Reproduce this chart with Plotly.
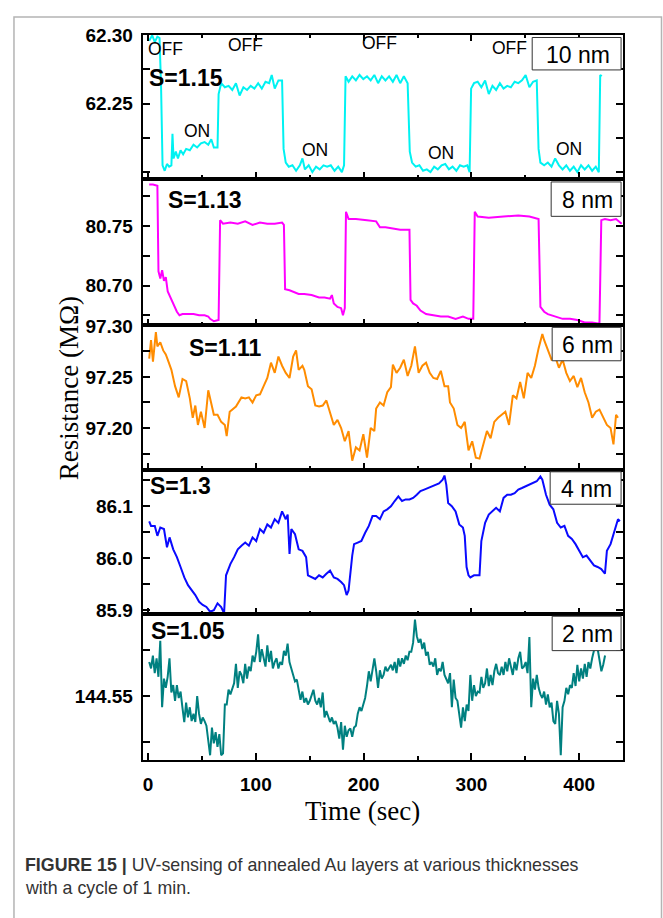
import numpy as np
import plotly.graph_objects as go
from plotly.subplots import make_subplots

# ---------------- data ----------------
# 10 nm (cyan)
t10 = [1.0, 3.8, 6.2, 8.6, 10.6, 12.0, 13.4, 15.4, 17.5, 19.5, 21.6, 22.6, 23.6, 25.7, 27.7, 30.1, 32.5, 35.3,
       38.7, 42.1, 45.5, 49.0, 52.4, 55.8, 58.6, 61.0, 64.4, 65.4, 67.8, 71.2, 74.7, 78.1, 81.5, 84.9, 88.4, 91.8,
       95.2, 98.6, 102.1, 105.5, 108.9, 112.3, 114.7, 117.5, 120.9, 124.3, 125.7, 127.7, 130.5, 133.9, 137.3, 140.8,
       143.2, 145.5, 149.0, 152.4, 155.8, 159.2, 162.7, 166.1, 169.5, 173.0, 176.4, 179.8, 181.8, 183.2, 186.0, 189.4,
       192.8, 196.2, 199.7, 203.1, 206.5, 209.9, 213.4, 216.8, 220.2, 223.6, 227.1, 230.5, 233.9, 237.3, 240.8, 242.8,
       244.9, 248.3, 251.7, 255.1, 258.6, 262.0, 265.4, 268.8, 272.3, 275.7, 279.1, 282.5, 286.0, 289.4, 292.8, 296.2,
       298.3, 299.7, 302.4, 305.8, 309.2, 312.7, 316.1, 319.5, 322.9, 326.4, 329.8, 333.2, 336.6, 340.1, 343.5, 346.9,
       350.3, 353.8, 357.2, 360.6, 362.3, 364.0, 367.5, 370.9, 374.3, 377.7, 381.2, 384.6, 388.0, 391.4, 394.9, 398.3,
       401.7, 405.1, 408.6, 412.0, 415.4, 418.2, 419.5, 420.9]
r10 = [62.296, 62.300, 62.295, 62.299, 62.298, 62.263, 62.205, 62.201, 62.206, 62.204, 62.205, 62.228, 62.210, 62.215,
       62.210, 62.216, 62.213, 62.217, 62.216, 62.220, 62.218, 62.221, 62.222, 62.220, 62.224, 62.218, 62.218, 62.257,
       62.265, 62.262, 62.263, 62.260, 62.265, 62.256, 62.262, 62.260, 62.263, 62.261, 62.265, 62.261, 62.266, 62.265,
       62.271, 62.261, 62.267, 62.267, 62.217, 62.207, 62.204, 62.205, 62.201, 62.205, 62.210, 62.202, 62.205, 62.200,
       62.204, 62.202, 62.205, 62.204, 62.205, 62.201, 62.204, 62.200, 62.205, 62.270, 62.266, 62.270, 62.267, 62.271,
       62.268, 62.270, 62.267, 62.271, 62.265, 62.270, 62.267, 62.270, 62.266, 62.271, 62.265, 62.270, 62.265, 62.215,
       62.207, 62.204, 62.205, 62.201, 62.202, 62.200, 62.204, 62.202, 62.205, 62.206, 62.202, 62.204, 62.201, 62.205,
       62.204, 62.205, 62.200, 62.261, 62.265, 62.266, 62.262, 62.267, 62.257, 62.263, 62.260, 62.265, 62.261, 62.263,
       62.262, 62.266, 62.265, 62.267, 62.271, 62.262, 62.266, 62.267, 62.217, 62.207, 62.205, 62.207, 62.204, 62.210,
       62.205, 62.202, 62.205, 62.201, 62.204, 62.200, 62.205, 62.202, 62.205, 62.201, 62.204, 62.200, 62.271, 62.270]

# 8 nm (magenta)
t8 = [1.0, 4.5, 8.6, 9.6, 11.3, 13.0, 14.7, 16.4, 18.2, 21.6, 24.3, 26.7, 29.1, 31.9, 37.0, 42.1, 47.3, 52.4, 55.8,
      57.5, 61.0, 65.4, 66.8, 69.5, 76.4, 83.2, 90.1, 96.9, 103.8, 110.6, 117.5, 124.3, 126.0, 127.1, 131.2, 134.6,
      139.7, 144.9, 151.7, 158.6, 163.7, 168.8, 170.5, 172.3, 175.7, 179.1, 180.8, 182.5, 183.6, 186.0, 192.8, 203.1,
      211.6, 215.1, 220.2, 227.1, 233.9, 242.5, 243.5, 245.9, 249.3, 252.7, 257.9, 264.7, 271.6, 278.4, 285.3, 292.1,
      297.3, 301.7, 303.1, 305.8, 316.1, 329.8, 343.5, 353.8, 362.3, 364.0, 367.5, 370.9, 377.7, 384.6, 391.4, 398.3,
      405.1, 412.0, 418.8, 420.5, 423.9, 429.1, 434.2, 439.4]
r8 = [80.785, 80.785, 80.784, 80.712, 80.706, 80.713, 80.704, 80.707, 80.695, 80.688, 80.682, 80.678, 80.675, 80.676,
      80.676, 80.676, 80.675, 80.675, 80.674, 80.672, 80.670, 80.671, 80.755, 80.752, 80.753, 80.752, 80.754, 80.751,
      80.753, 80.752, 80.752, 80.753, 80.751, 80.697, 80.696, 80.695, 80.693, 80.693, 80.692, 80.690, 80.690, 80.689,
      80.692, 80.685, 80.682, 80.681, 80.675, 80.681, 80.762, 80.756, 80.756, 80.755, 80.754, 80.749, 80.749, 80.748,
      80.747, 80.747, 80.688, 80.685, 80.683, 80.679, 80.676, 80.675, 80.674, 80.674, 80.672, 80.674, 80.672, 80.672,
      80.762, 80.758, 80.757, 80.758, 80.759, 80.758, 80.756, 80.682, 80.678, 80.676, 80.674, 80.672, 80.672, 80.671,
      80.669, 80.669, 80.668, 80.755, 80.756, 80.755, 80.756, 80.752]

# 6 nm (orange)
t6 = [1.0, 2.7, 4.5, 7.2, 8.6, 11.3, 14.0, 16.4, 18.2, 21.6, 25.0, 28.4, 31.9, 35.3, 38.7, 41.4, 43.8, 46.2, 49.0,
      52.4, 55.8, 57.5, 61.0, 64.4, 67.8, 71.2, 72.9, 75.7, 78.1, 81.5, 86.6, 90.1, 93.5, 96.9, 100.3, 103.8, 107.2,
      110.6, 114.0, 117.5, 120.9, 124.3, 127.7, 131.2, 134.6, 137.3, 139.7, 143.2, 144.9, 148.3, 151.7, 155.1, 158.6,
      162.0, 165.4, 168.8, 172.3, 175.7, 179.1, 182.5, 186.0, 189.4, 192.8, 196.2, 199.7, 203.1, 206.5, 209.9, 211.6,
      215.1, 218.5, 221.9, 225.3, 227.1, 230.5, 233.9, 237.3, 240.8, 244.2, 247.6, 251.0, 254.5, 257.9, 261.3, 264.7,
      268.2, 271.6, 275.0, 278.4, 280.1, 283.6, 287.0, 290.4, 293.8, 297.3, 300.7, 304.1, 307.5, 311.0, 314.4, 317.8,
      321.2, 324.7, 328.1, 331.5, 334.9, 338.4, 341.8, 345.2, 348.6, 352.1, 355.5, 358.9, 362.3, 365.8, 367.5, 370.9,
      374.3, 377.7, 381.2, 384.6, 388.0, 391.4, 394.9, 398.3, 401.7, 405.1, 408.6, 412.0, 415.4, 418.8, 422.3, 425.7,
      429.1, 431.8, 434.2, 436.0]
r6 = [97.268, 97.286, 97.265, 97.294, 97.280, 97.284, 97.276, 97.272, 97.267, 97.257, 97.241, 97.230, 97.248, 97.246,
      97.229, 97.210, 97.222, 97.203, 97.216, 97.200, 97.237, 97.229, 97.213, 97.213, 97.206, 97.203, 97.192, 97.216,
      97.218, 97.221, 97.230, 97.229, 97.230, 97.225, 97.232, 97.233, 97.241, 97.249, 97.264, 97.254, 97.270, 97.261,
      97.254, 97.249, 97.270, 97.276, 97.257, 97.261, 97.257, 97.241, 97.238, 97.222, 97.221, 97.222, 97.227, 97.216,
      97.203, 97.208, 97.200, 97.187, 97.197, 97.168, 97.181, 97.178, 97.194, 97.171, 97.200, 97.197, 97.219, 97.225,
      97.222, 97.235, 97.240, 97.262, 97.254, 97.259, 97.267, 97.251, 97.261, 97.280, 97.254, 97.261, 97.264, 97.254,
      97.249, 97.248, 97.256, 97.241, 97.241, 97.225, 97.219, 97.203, 97.200, 97.206, 97.178, 97.187, 97.171, 97.170,
      97.184, 97.197, 97.190, 97.206, 97.210, 97.213, 97.216, 97.203, 97.232, 97.229, 97.245, 97.229, 97.254, 97.249,
      97.261, 97.278, 97.292, 97.286, 97.276, 97.267, 97.270, 97.259, 97.267, 97.254, 97.246, 97.251, 97.240, 97.249,
      97.235, 97.225, 97.210, 97.216, 97.218, 97.210, 97.203, 97.200, 97.184, 97.213, 97.210]

# 4 nm (blue)
t4 = [1.0, 2.7, 6.2, 8.6, 11.3, 14.7, 17.5, 19.9, 23.3, 26.7, 30.1, 33.6, 37.0, 40.4, 43.8, 47.3, 50.7, 54.1, 57.5,
      61.0, 64.4, 67.8, 70.5, 72.3, 76.4, 79.8, 83.2, 86.6, 90.1, 93.5, 96.9, 100.3, 103.8, 107.2, 110.6, 114.0, 117.5,
      120.9, 124.3, 127.7, 129.5, 131.2, 132.9, 136.3, 139.7, 143.2, 146.6, 148.3, 151.7, 155.1, 158.6, 162.0, 165.4,
      168.8, 172.3, 175.7, 179.1, 181.8, 184.2, 186.0, 189.4, 191.1, 194.5, 197.9, 201.4, 204.8, 208.2, 211.6, 215.1,
      218.5, 221.9, 225.3, 228.8, 232.2, 235.6, 239.0, 242.5, 245.9, 249.3, 252.7, 256.2, 259.6, 263.0, 266.4, 269.9,
      273.3, 275.0, 276.7, 278.4, 281.8, 285.3, 288.7, 292.1, 293.8, 295.5, 297.3, 299.0, 302.4, 305.8, 307.5, 309.2,
      312.7, 316.1, 319.5, 322.9, 326.4, 329.8, 333.2, 336.6, 340.1, 343.5, 346.9, 350.3, 353.8, 357.2, 360.6, 364.0,
      365.8, 369.2, 372.6, 376.0, 379.5, 382.9, 386.3, 389.7, 393.2, 396.6, 400.0, 403.4, 406.8, 410.3, 413.7, 417.1,
      420.5, 423.9, 425.7, 429.1, 432.5, 436.0, 437.7]
r4 = [86.071, 86.062, 86.062, 86.043, 86.059, 86.056, 86.021, 86.040, 86.017, 86.002, 85.983, 85.963, 85.948, 85.938,
      85.929, 85.916, 85.910, 85.906, 85.897, 85.900, 85.913, 85.906, 85.894, 85.967, 85.989, 86.002, 86.017, 86.024,
      86.030, 86.024, 86.040, 86.033, 86.056, 86.049, 86.065, 86.059, 86.075, 86.068, 86.090, 86.075, 86.084, 86.008,
      86.056, 86.046, 86.017, 86.014, 86.002, 85.967, 85.963, 85.960, 85.967, 85.963, 85.970, 85.976, 85.963, 85.960,
      85.954, 85.948, 85.929, 85.938, 86.005, 86.027, 86.030, 86.033, 86.049, 86.062, 86.081, 86.081, 86.075, 86.090,
      86.094, 86.100, 86.110, 86.119, 86.110, 86.113, 86.113, 86.116, 86.122, 86.129, 86.132, 86.135, 86.138, 86.141,
      86.144, 86.151, 86.159, 86.141, 86.106, 86.100, 86.090, 86.065, 86.059, 86.043, 85.983, 85.967, 85.963, 85.967,
      85.967, 85.967, 86.033, 86.068, 86.084, 86.090, 86.097, 86.090, 86.116, 86.122, 86.122, 86.125, 86.132, 86.135,
      86.138, 86.141, 86.144, 86.148, 86.157, 86.151, 86.122, 86.103, 86.094, 86.068, 86.059, 86.062, 86.043, 86.037,
      86.027, 86.014, 86.002, 86.005, 85.995, 85.986, 85.983, 85.979, 85.970, 86.014, 86.027, 86.052, 86.075, 86.071]

# 2 nm (teal), sampled evenly in time from 1 s to 424 s
t2_start, t2_end = 1.0, 424.0
r2 = [144.587, 144.580, 144.594, 144.575, 144.591, 144.571, 144.610, 144.538, 144.569, 144.559, 144.571, 144.591,
      144.554, 144.562, 144.545, 144.562, 144.548, 144.555, 144.538, 144.522, 144.543, 144.527, 144.538, 144.523,
      144.531, 144.522, 144.550, 144.531, 144.520, 144.527, 144.523, 144.518, 144.502, 144.486, 144.516, 144.499,
      144.511, 144.495, 144.509, 144.486, 144.488, 144.541, 144.541, 144.557, 144.552, 144.559, 144.564, 144.585,
      144.559, 144.577, 144.573, 144.564, 144.585, 144.569, 144.582, 144.577, 144.594, 144.587, 144.598, 144.617,
      144.587, 144.601, 144.592, 144.582, 144.605, 144.587, 144.599, 144.580, 144.587, 144.591, 144.580, 144.587,
      144.584, 144.599, 144.594, 144.607, 144.587, 144.580, 144.573, 144.566, 144.568, 144.555, 144.546, 144.555,
      144.543, 144.548, 144.541, 144.545, 144.552, 144.557, 144.545, 144.541, 144.548, 144.538, 144.554, 144.527,
      144.534, 144.529, 144.522, 144.527, 144.520, 144.523, 144.516, 144.504, 144.522, 144.492, 144.518, 144.506,
      144.513, 144.515, 144.506, 144.516, 144.518, 144.531, 144.538, 144.534, 144.541, 144.548, 144.561, 144.577,
      144.566, 144.580, 144.591, 144.577, 144.559, 144.578, 144.569, 144.573, 144.582, 144.577, 144.580, 144.584,
      144.578, 144.587, 144.575, 144.591, 144.582, 144.591, 144.585, 144.594, 144.589, 144.598, 144.598, 144.608,
      144.633, 144.615, 144.608, 144.612, 144.601, 144.608, 144.594, 144.598, 144.584, 144.587, 144.582, 144.591,
      144.573, 144.580, 144.577, 144.587, 144.573, 144.569, 144.564, 144.575, 144.538, 144.568, 144.548, 144.545,
      144.527, 144.516, 144.538, 144.523, 144.541, 144.534, 144.573, 144.545, 144.562, 144.550, 144.555, 144.554,
      144.571, 144.559, 144.564, 144.580, 144.561, 144.573, 144.562, 144.577, 144.585, 144.575, 144.573, 144.582,
      144.573, 144.587, 144.577, 144.591, 144.582, 144.573, 144.587, 144.578, 144.591, 144.598, 144.580, 144.582,
      144.587, 144.575, 144.614, 144.538, 144.569, 144.557, 144.573, 144.559, 144.552, 144.548, 144.555, 144.541,
      144.552, 144.538, 144.543, 144.523, 144.520, 144.545, 144.531, 144.486, 144.538, 144.545, 144.559, 144.552,
      144.562, 144.559, 144.575, 144.561, 144.584, 144.566, 144.580, 144.569, 144.585, 144.571, 144.587, 144.580,
      144.591, 144.598, 144.608, 144.601, 144.591, 144.577, 144.584, 144.594]
t2 = np.linspace(t2_start, t2_end, len(r2))

thick_labels = ["10 nm", "8 nm", "6 nm", "4 nm", "2 nm"]
s_labels = ["S=1.15", "S=1.13", "S=1.11", "S=1.3", "S=1.05"]
colors = ["#00f2f2", "#ff00ff", "#ff8c00", "#0a0aff", "#008080"]
x_ticks = [0, 100, 200, 300, 400]
y_ranges = [[62.195, 62.3005], [80.6665, 80.7896], [97.159, 97.3005], [85.892, 86.170], [144.4812, 144.6387]]
y_tickvals = [[62.20, 62.25, 62.30], [80.70, 80.75], [97.20, 97.25, 97.30], [85.9, 86.0, 86.1], [144.55]]
y_ticktext = [["", "62.25", "62.30"], ["80.70", "80.75"], ["97.20", "97.25", "97.30"], ["85.9", "86.0", "86.1"], ["144.55"]]
y_minor = [(62.20, 0.025), (80.675, 0.025), (97.175, 0.025), (85.9, 0.05), (144.50, 0.05)]
off_t = [16.4, 90.6, 214.5, 334.9]
off_r = [62.290, 62.293, 62.294, 62.291]
on_t = [45.2, 154.4, 271.9, 390.5]
on_r = [62.230, 62.216, 62.214, 62.217]

series = [(t10, r10), (t8, r8), (t6, r6), (t4, r4), (t2, r2)]

# ---------------- layout geometry (pixels) ----------------
W, H = 663, 918
PX_L, PX_R = 142.7, 623.0
panel_px = [(25, 172), (172, 321), (321, 468), (468, 615), (615, 763)]

def px(x):
    return x / W

def py(y):
    return 1 - y / H

fig = make_subplots(rows=5, cols=1)

for i, (tt, rr) in enumerate(series):
    fig.add_trace(go.Scatter(x=tt, y=rr, mode="lines", line=dict(color=colors[i], width=2),
                             showlegend=False, hoverinfo="skip"), row=i + 1, col=1)

tickfont = dict(family="Liberation Sans, Arial", size=19, color="black", weight="bold")

for i in range(5):
    n = "" if i == 0 else str(i + 1)
    top, bot = panel_px[i]
    fig.layout["xaxis" + n].update(
        domain=[px(PX_L), px(PX_R)], range=[-4.3, 440.7], anchor="y" + n,
        showline=True, linecolor="black", linewidth=1.5,
        mirror="ticks" if i == 0 else True,
        ticks="inside", ticklen=7, tickwidth=1.5, tickcolor="black",
        tickvals=x_ticks, ticktext=[str(v) for v in x_ticks],
        showticklabels=(i == 4), tickfont=tickfont, ticklabelstandoff=7,
        minor=dict(dtick=50, tick0=0, ticks="inside", ticklen=4, tickwidth=1.5, tickcolor="black"),
        showgrid=False, zeroline=False,
    )
    fig.layout["yaxis" + n].update(
        domain=[py(bot), py(top)], range=y_ranges[i], anchor="x" + n,
        showline=True, linecolor="black", linewidth=1.5, mirror="ticks",
        ticks="inside", ticklen=7, tickwidth=1.5, tickcolor="black",
        tickvals=y_tickvals[i], ticktext=y_ticktext[i], tickfont=tickfont, ticklabelstandoff=5,
        minor=dict(tick0=y_minor[i][0], dtick=y_minor[i][1], ticks="inside", ticklen=7,
                   tickwidth=1.5, tickcolor="black"),
        showgrid=False, zeroline=False,
    )

annotations = []
shapes = []

# Outer grey frame
shapes.append(dict(type="rect", xref="paper", yref="paper", x0=px(13), x1=px(661.5), y0=py(930), y1=py(7),
                   line=dict(color="#b4b4b4", width=1.5), fillcolor="rgba(0,0,0,0)", layer="below"))

# thickness boxes and S labels
box_px = [(532, 621, 28, 61), (551, 621, 175, 210), (552, 621, 323, 357), (550, 621, 470, 503), (552, 621, 617, 652)]
s_px = [(146, 69), (165, 193), (186, 344), (147, 484), (148, 632)]
for i in range(5):
    x0, x1, y0, y1 = box_px[i]
    shapes.append(dict(type="rect", xref="paper", yref="paper", x0=px(x0), x1=px(x1), y0=py(y1), y1=py(y0),
                       line=dict(color="#333333", width=1), fillcolor="white", layer="above"))
    annotations.append(dict(xref="paper", yref="paper", x=px((x0 + x1) / 2 + 1), y=py((y0 + y1) / 2 + 1),
                            text=thick_labels[i], showarrow=False, xanchor="center", yanchor="middle",
                            font=dict(family="Liberation Sans, Arial", size=23, color="black")))
    annotations.append(dict(xref="paper", yref="paper", x=px(s_px[i][0]), y=py(s_px[i][1]),
                            text="<b>" + s_labels[i] + "</b>", showarrow=False, xanchor="left", yanchor="middle",
                            font=dict(family="Liberation Sans, Arial", size=23, color="black")))

# ON / OFF labels in the 10 nm panel
for tx, rv in zip(off_t, off_r):
    annotations.append(dict(xref="x", yref="y", x=tx, y=rv, text="OFF", showarrow=False,
                            font=dict(family="Liberation Sans, Arial", size=17.5, color="black")))
for tx, rv in zip(on_t, on_r):
    annotations.append(dict(xref="x", yref="y", x=tx, y=rv, text="ON", showarrow=False,
                            font=dict(family="Liberation Sans, Arial", size=17.5, color="black")))

# axis titles
annotations.append(dict(xref="paper", yref="paper", x=px(68), y=py(385), text="Resistance (MΩ)", showarrow=False,
                        textangle=-90, xanchor="center", yanchor="middle",
                        font=dict(family="Liberation Serif, Times New Roman", size=27, color="black")))
annotations.append(dict(xref="paper", yref="paper", x=px(362), y=py(815), text="Time (sec)", showarrow=False,
                        xanchor="center", yanchor="middle",
                        font=dict(family="Liberation Serif, Times New Roman", size=27, color="black")))

# caption
annotations.append(dict(xref="paper", yref="paper", x=px(22), y=py(870),
                        text="<b>FIGURE 15 |</b> UV-sensing of annealed Au layers at various thicknesses",
                        showarrow=False, xanchor="left", yanchor="middle",
                        font=dict(family="Liberation Sans, Arial", size=17.8, color="#333333")))
annotations.append(dict(xref="paper", yref="paper", x=px(22), y=py(894),
                        text="with a cycle of 1 min.",
                        showarrow=False, xanchor="left", yanchor="middle",
                        font=dict(family="Liberation Sans, Arial", size=17.8, color="#333333")))

fig.update_layout(
    width=W, height=H, autosize=False,
    margin=dict(l=0, r=0, t=0, b=0),
    paper_bgcolor="white", plot_bgcolor="white",
    annotations=annotations, shapes=shapes,
    showlegend=False,
)

fig.write_html("out.html")
